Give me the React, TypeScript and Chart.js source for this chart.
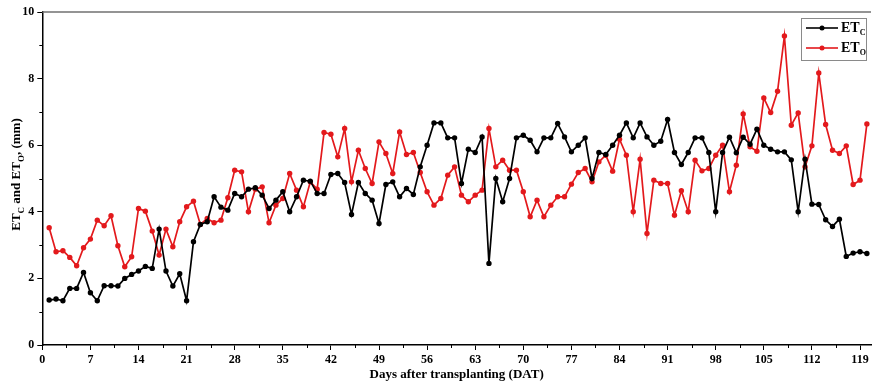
import React, { useEffect, useRef } from 'react';
import { Chart, registerables } from 'chart.js';
Chart.register(...registerables);

const days = [
  1, 2, 3, 4, 5, 6, 7, 8, 9, 10, 11, 12, 13, 14, 15, 16, 17, 18, 19, 20,
  21, 22, 23, 24, 25, 26, 27, 28, 29, 30, 31, 32, 33, 34, 35, 36, 37, 38, 39, 40,
  41, 42, 43, 44, 45, 46, 47, 48, 49, 50, 51, 52, 53, 54, 55, 56, 57, 58, 59, 60,
  61, 62, 63, 64, 65, 66, 67, 68, 69, 70, 71, 72, 73, 74, 75, 76, 77, 78, 79, 80,
  81, 82, 83, 84, 85, 86, 87, 88, 89, 90, 91, 92, 93, 94, 95, 96, 97, 98, 99, 100,
  101, 102, 103, 104, 105, 106, 107, 108, 109, 110, 111, 112, 113, 114, 115, 116, 117, 118, 119, 120,
];

const etc = [
  1.35, 1.38, 1.33, 1.70, 1.70, 2.18, 1.57, 1.33, 1.78, 1.78,
  1.77, 2.00, 2.12, 2.22, 2.36, 2.30, 3.48, 2.22, 1.77, 2.14,
  1.33, 3.10, 3.62, 3.70, 4.45, 4.14, 4.05, 4.55, 4.45, 4.68,
  4.72, 4.50, 4.10, 4.35, 4.60, 4.00, 4.45, 4.95, 4.92, 4.55,
  4.55, 5.12, 5.15, 4.88, 3.92, 4.88, 4.55, 4.35, 3.65, 4.82,
  4.90, 4.45, 4.70, 4.52, 5.35, 6.00, 6.67, 6.67, 6.22, 6.22,
  4.85, 5.88, 5.78, 6.25, 2.45, 5.00, 4.30, 5.00, 6.22, 6.30,
  6.15, 5.80, 6.22, 6.22, 6.65, 6.25, 5.80, 6.00, 6.22, 5.00,
  5.78, 5.72, 6.00, 6.30, 6.67, 6.22, 6.67, 6.25, 6.00, 6.12,
  6.77, 5.78, 5.42, 5.78, 6.22, 6.22, 5.78, 4.00, 5.78, 6.24,
  5.77, 6.24, 6.03, 6.48, 6.00, 5.88, 5.80, 5.80, 5.56, 4.00,
  5.58, 4.23, 4.22, 3.76, 3.56, 3.78, 2.66, 2.76, 2.80, 2.75,
];

const eto = [
  3.52, 2.80, 2.83, 2.63, 2.38, 2.92, 3.18, 3.75, 3.58, 3.88,
  2.98, 2.35, 2.65, 4.10, 4.02, 3.42, 2.70, 3.48, 2.95, 3.70,
  4.15, 4.32, 3.62, 3.80, 3.67, 3.75, 4.42, 5.25, 5.20, 4.00,
  4.68, 4.75, 3.67, 4.20, 4.40, 5.15, 4.65, 4.15, 4.90, 4.68,
  6.38, 6.33, 5.65, 6.50, 4.90, 5.85, 5.30, 4.85, 6.10, 5.75,
  5.15, 6.40, 5.72, 5.78, 5.18, 4.60, 4.20, 4.40, 5.10, 5.35,
  4.50, 4.30, 4.50, 4.65, 6.50, 5.35, 5.55, 5.25, 5.25, 4.60,
  3.85, 4.35, 3.85, 4.20, 4.45, 4.45, 4.83, 5.18, 5.30, 4.90,
  5.50, 5.70, 5.22, 6.18, 5.70, 4.00, 5.58, 3.35, 4.95, 4.85,
  4.85, 3.90, 4.63, 4.00, 5.55, 5.23, 5.30, 5.70, 6.00, 4.60,
  5.40, 6.94, 5.95, 5.82, 7.42, 6.98, 7.62, 9.28, 6.60, 6.97,
  5.35, 5.98, 8.17, 6.62, 5.85, 5.75, 5.98, 4.82, 4.95, 6.64,
];

const xTicks = [0, 7, 14, 21, 28, 35, 42, 49, 56, 63, 70, 77, 84, 91, 98, 105, 112, 119];
const yTicks = [0, 2, 4, 6, 8, 10];

const seriesNames = [
  { main: 'ET', sub: 'C' },
  { main: 'ET', sub: 'O' },
];

const BLACK = '#000000';
const RED = '#e3191c';
const SERIF = '"Liberation Serif", "Times New Roman", serif';

type Part = { t: string; sub?: boolean };

function drawParts(ctx: CanvasRenderingContext2D, parts: Part[], x: number, y: number, size: number, subSize: number, center: boolean) {
  const mainFont = `bold ${size}px ${SERIF}`;
  const subFont = `bold ${subSize}px ${SERIF}`;
  let total = 0;
  for (const p of parts) {
    ctx.font = p.sub ? subFont : mainFont;
    total += ctx.measureText(p.t).width;
  }
  let cx = center ? x - total / 2 : x;
  ctx.textBaseline = 'middle';
  ctx.textAlign = 'left';
  for (const p of parts) {
    ctx.font = p.sub ? subFont : mainFont;
    ctx.fillText(p.t, cx, p.sub ? y + size * 0.38 : y);
    cx += ctx.measureText(p.t).width;
  }
}

const decor = {
  id: 'decor',
  afterDraw(chart: any) {
    const { ctx, chartArea, scales } = chart;
    const xs = scales.x;
    const ys = scales.y;
    ctx.save();
    // top frame line
    ctx.strokeStyle = '#707070';
    ctx.lineWidth = 1.5;
    ctx.beginPath();
    ctx.moveTo(chartArea.left, chartArea.top);
    ctx.lineTo(chartArea.right, chartArea.top);
    ctx.stroke();
    // minor ticks
    ctx.strokeStyle = BLACK;
    ctx.lineWidth = 1;
    for (let i = 0; i < xTicks.length - 1; i++) {
      const px = Math.round(xs.getPixelForValue((xTicks[i] + xTicks[i + 1]) / 2)) + 0.5;
      ctx.beginPath();
      ctx.moveTo(px, chartArea.bottom);
      ctx.lineTo(px, chartArea.bottom + 3);
      ctx.stroke();
    }
    for (let i = 0; i < yTicks.length - 1; i++) {
      const py = Math.round(ys.getPixelForValue((yTicks[i] + yTicks[i + 1]) / 2)) + 0.5;
      ctx.beginPath();
      ctx.moveTo(chartArea.left, py);
      ctx.lineTo(chartArea.left - 3, py);
      ctx.stroke();
    }
    // y title
    ctx.fillStyle = BLACK;
    ctx.save();
    ctx.translate(17, (chartArea.top + chartArea.bottom) / 2 - 4);
    ctx.rotate(-Math.PI / 2);
    drawParts(ctx, [
      { t: 'ET' }, { t: 'C', sub: true }, { t: ' and ET' }, { t: 'O', sub: true }, { t: ', (mm)' },
    ], 0, 0, 13, 9, true);
    ctx.restore();
    // legend
    const bx = 801.5, by = 18.5, bw = 65, bh = 42;
    ctx.strokeStyle = '#8a8a8a';
    ctx.lineWidth = 1;
    ctx.fillStyle = '#ffffff';
    ctx.fillRect(bx, by, bw, bh);
    ctx.strokeRect(bx, by, bw, bh);
    const colors = [BLACK, RED];
    const rows = [28, 48];
    seriesNames.forEach((s, i) => {
      const ry = rows[i];
      ctx.strokeStyle = colors[i];
      ctx.lineWidth = 1.6;
      ctx.beginPath();
      ctx.moveTo(806, ry);
      ctx.lineTo(838, ry);
      ctx.stroke();
      ctx.fillStyle = colors[i];
      ctx.beginPath();
      ctx.arc(822, ry, 2.5, 0, Math.PI * 2);
      ctx.fill();
      ctx.fillStyle = BLACK;
      drawParts(ctx, [{ t: s.main }, { t: s.sub, sub: true }], 841, ry, 14, 8, false);
    });
    ctx.restore();
  },
};

export default function App() {
  const ref = useRef<HTMLCanvasElement>(null);
  useEffect(() => {
    if (!ref.current) return;
    const mk = (vals: number[]) => days.map((d, i) => ({ x: d, y: vals[i] }));
    const chart = new Chart(ref.current, {
      type: 'line',
      data: {
        datasets: [
          {
            label: 'ETc',
            data: mk(etc),
            borderColor: BLACK,
            backgroundColor: BLACK,
            borderWidth: 1.7,
            pointRadius: 2.7,
            pointBorderWidth: 0,
            pointBackgroundColor: BLACK,
            tension: 0,
          },
          {
            label: 'ETo',
            data: mk(eto),
            borderColor: RED,
            backgroundColor: RED,
            borderWidth: 1.7,
            pointRadius: 2.7,
            pointBorderWidth: 0,
            pointBackgroundColor: RED,
            tension: 0,
          },
        ],
      },
      options: {
        responsive: false,
        animation: false,
        layout: { padding: { top: 12, right: 0, left: 0, bottom: 0 } },
        plugins: {
          legend: { display: false },
          tooltip: { enabled: false },
        },
        scales: {
          x: {
            type: 'linear',
            min: 0,
            max: 120.6,
            afterBuildTicks: (s: any) => {
              s.ticks = xTicks.map((v) => ({ value: v }));
            },
            afterFit: (s: any) => {
              s.height = 40;
            },
            grid: { drawOnChartArea: false, drawTicks: true, tickLength: 5, color: BLACK, lineWidth: 1 },
            border: { display: true, color: BLACK, width: 1.5 },
            ticks: {
              autoSkip: false,
              maxRotation: 0,
              padding: 3,
              color: BLACK,
              font: { family: SERIF, size: 12, weight: 'bold' },
            },
            title: {
              display: true,
              text: 'Days after transplanting (DAT)',
              color: BLACK,
              font: { family: SERIF, size: 13, weight: 'bold' },
              padding: { top: 0, bottom: 3 },
            },
          },
          y: {
            min: 0,
            max: 10,
            afterBuildTicks: (s: any) => {
              s.ticks = yTicks.map((v) => ({ value: v }));
            },
            afterFit: (s: any) => {
              s.width = 42.3;
            },
            grid: { drawOnChartArea: false, drawTicks: true, tickLength: 5, color: BLACK, lineWidth: 1 },
            border: { display: true, color: BLACK, width: 1.5 },
            ticks: {
              padding: 3,
              color: BLACK,
              font: { family: SERIF, size: 12, weight: 'bold' },
            },
          },
        },
      },
      plugins: [decor],
    } as any);
    return () => chart.destroy();
  }, []);
  return (
    <div style={{ position: 'fixed', left: 0, top: 0, width: 875, height: 385, background: '#fff' }}>
      <canvas ref={ref} width={875} height={385} style={{ display: 'block' }} />
    </div>
  );
}
